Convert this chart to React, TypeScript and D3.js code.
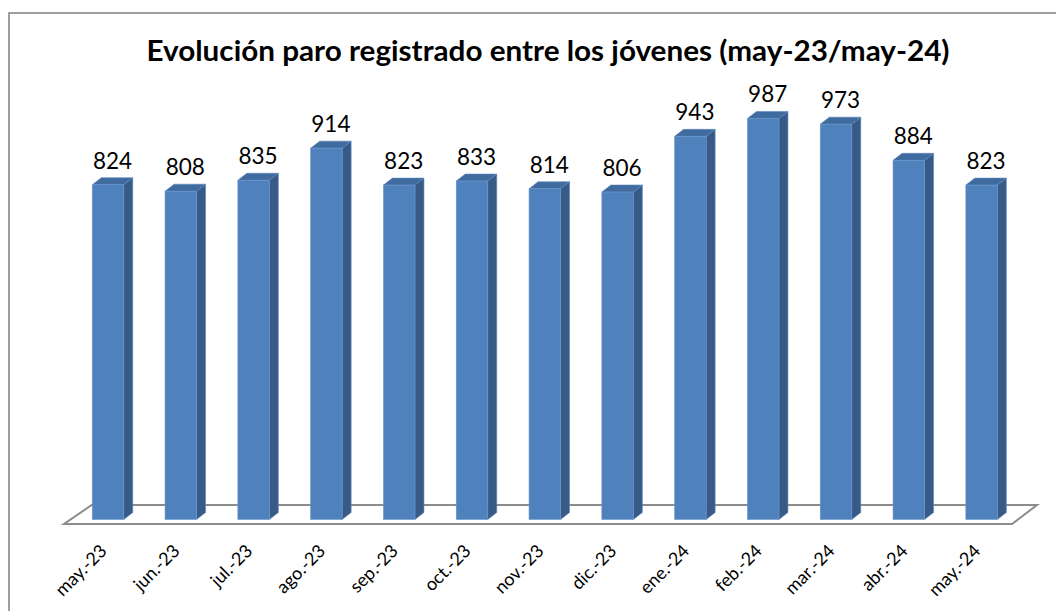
import React from "react";
import * as d3 from "d3";

const categories = ["may.-23","jun.-23","jul.-23","ago.-23","sep.-23","oct.-23","nov.-23","dic.-23","ene.-24","feb.-24","mar.-24","abr.-24","may.-24"];
const values = [824, 808, 835, 914, 823, 833, 814, 806, 943, 987, 973, 884, 823];
const title = "Evolución paro registrado entre los jóvenes (may-23/may-24)";

const W = 1056, H = 611;
const DX = 9, DY = 7;
const BAR_W = 31.5;

export default function App() {
  const x = d3.scalePoint<string>().domain(categories).range([71.6, 1018]).padding(0.5);
  const y = d3.scaleLinear().domain([0, 1200]).range([519.5, 519.5 - 1200 * 0.4063]);
  const y0 = y(0);
  const font = "Lato, 'Open Sans', sans-serif";
  return (
    <svg width={W} height={H} style={{ position: "absolute", left: 0, top: 0, background: "#fff" }}>
      <rect x={9} y={13} width={W + 20} height={H + 20} fill="#fff" stroke="#878787" strokeWidth={1.6} />
      <text x={548} y={61} textAnchor="middle" fontFamily={font} fontWeight={700} fontSize={28}
        textLength={803} lengthAdjust="spacingAndGlyphs" fill="#000">{title}</text>
      {/* floor */}
      <polygon points={`64,524 1012,524 1037,505 91.7,505`} fill="#fff" stroke="#8c8c8c" strokeWidth={2} strokeLinejoin="miter" />
      {categories.map((c, i) => {
        const cx = x(c)!;
        const x0 = cx - BAR_W / 2, x1 = cx + BAR_W / 2;
        const yt = y(values[i]);
        return (
          <g key={c}>
            <polygon points={`${x1},${yt} ${x1 + DX},${yt - DY} ${x1 + DX},${y0 - DY} ${x1},${y0}`} fill="#375A87" stroke="#5b86bf" strokeWidth={0.6} />
            <polygon points={`${x0},${yt} ${x0 + DX},${yt - DY} ${x1 + DX},${yt - DY} ${x1},${yt}`} fill="#406B9E" stroke="#5b86bf" strokeWidth={0.6} />
            <rect x={x0} y={yt} width={BAR_W} height={y0 - yt} fill="#4F81BD" stroke="#6a96cc" strokeWidth={0.6} />
            <text x={cx + DX / 2} y={yt - DY - 9} textAnchor="middle" fontFamily={font} fontSize={22.5} fill="#000">{values[i]}</text>
            <text transform={`translate(${cx},${552}) rotate(-45)`} textAnchor="end" fontFamily={font} fontSize={18} fill="#000">{c}</text>
          </g>
        );
      })}
    </svg>
  );
}
